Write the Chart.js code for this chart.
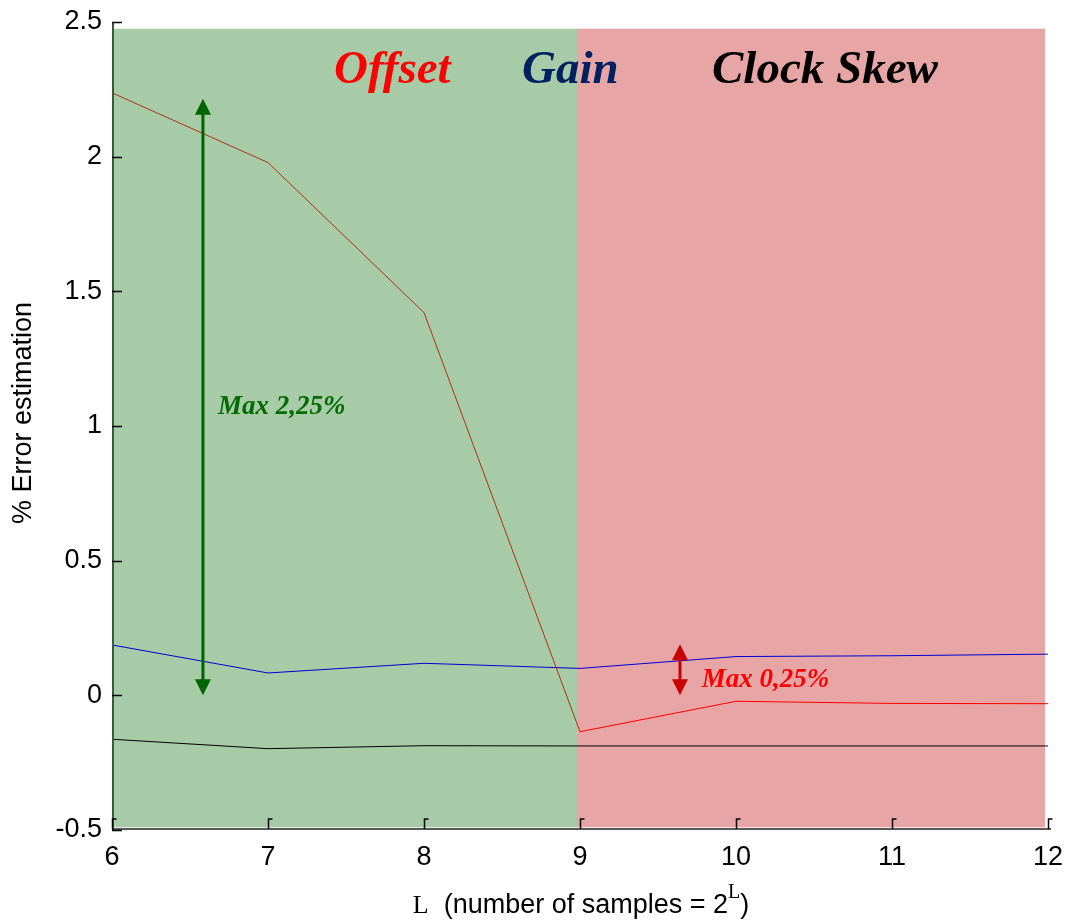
<!DOCTYPE html>
<html><head><meta charset="utf-8">
<script src="https://cdn.jsdelivr.net/npm/chart.js@4.4.1/dist/chart.umd.min.js"></script>
<style>html,body{margin:0;padding:0;background:#fff}#wrap{width:1067px;height:922px;position:relative}</style>
</head><body><div id="wrap"><canvas id="c"></canvas></div>
<script>
// ---- data ----
const L = [6, 7, 8, 9, 10, 11, 12];
const offsetErr = [2.237, 1.978, 1.421, -0.135, -0.022, -0.030, -0.031];
const gainErr = [0.187, 0.083, 0.119, 0.100, 0.144, 0.147, 0.153];
const skewErr = [-0.163, -0.198, -0.187, -0.188, -0.188, -0.188, -0.188];
const xTickValues = [6, 7, 8, 9, 10, 11, 12];
const xTickLabels = ['6', '7', '8', '9', '10', '11', '12'];
const yTickValues = [-0.5, 0, 0.5, 1, 1.5, 2, 2.5];
const yTickLabels = ['-0.5', '0', '0.5', '1', '1.5', '2', '2.5'];
// shaded regions (x from, x to) and vertical extent
const regionXFrom = [6, 8.981];
const regionXTo = [8.981, 11.981];
const regionYFrom = [-0.49, -0.49];
const regionYTo = [2.475, 2.475];
// header words
const headerTexts = ['Offset', 'Gain', 'Clock Skew'];
const headerX = [7.423, 8.628, 9.846];
const headerY = [2.275, 2.275, 2.275];
// double arrows
const arrowX = [6.583, 9.641];
const arrowFrom = [0, 0];
const arrowTo = [2.215, 0.19];
// notes
const noteTexts = ['Max 2,25%', 'Max 0,25%'];
const noteX = [6.679, 9.78];
const noteY = [1.043, 0.03];

// ---- styles ----
const regionColors = ['#a7caa7', '#e7a5a6'];
const headerColors = ['#ff0000', '#002060', '#000000'];
const arrowColors = ['#006400', '#c80000'];
const noteColors = ['#006b00', '#ff0000'];

const pts = (ys) => L.map((x, i) => ({x: x, y: ys[i]}));

const decor = {
  id: 'decor',
  beforeDatasetsDraw(chart) {
    const {ctx, scales: {x, y}} = chart;
    ctx.save();
    for (let i = 0; i < regionColors.length; i++) {
      const x0 = x.getPixelForValue(regionXFrom[i]);
      const x1 = x.getPixelForValue(regionXTo[i]);
      const y0 = y.getPixelForValue(regionYTo[i]);
      const y1 = y.getPixelForValue(regionYFrom[i]);
      ctx.fillStyle = regionColors[i];
      ctx.fillRect(x0, y0, x1 - x0, y1 - y0);
    }
    ctx.restore();
  },
  afterDatasetsDraw(chart) {
    const {ctx, chartArea: ca, scales: {x, y}} = chart;
    ctx.save();
    // axis lines
    ctx.strokeStyle = '#3a5a3a';
    ctx.lineWidth = 2;
    ctx.beginPath(); ctx.moveTo(ca.left + 1, ca.top); ctx.lineTo(ca.left + 1, ca.bottom); ctx.stroke();
    ctx.strokeStyle = '#222';
    ctx.lineWidth = 1.5;
    ctx.beginPath(); ctx.moveTo(ca.left, ca.bottom - 1); ctx.lineTo(ca.right + 3, ca.bottom - 1); ctx.stroke();
    // inward ticks
    ctx.strokeStyle = '#000';
    ctx.lineWidth = 1.5;
    yTickValues.forEach(v => {
      const py = Math.round(y.getPixelForValue(v)) + 0.5;
      ctx.beginPath(); ctx.moveTo(ca.left, py); ctx.lineTo(ca.left + 10, py); ctx.stroke();
    });
    xTickValues.forEach(v => {
      const px = Math.round(x.getPixelForValue(v)) + 0.5;
      ctx.beginPath(); ctx.moveTo(px, ca.bottom - 1); ctx.lineTo(px, ca.bottom - 11); ctx.lineTo(px + 4, ca.bottom - 11); ctx.stroke();
    });
    // arrows
    for (let i = 0; i < arrowX.length; i++) {
      const px = x.getPixelForValue(arrowX[i]);
      const pTop = y.getPixelForValue(arrowTo[i]);
      const pBot = y.getPixelForValue(arrowFrom[i]);
      const hl = 16, hw = 8;
      ctx.fillStyle = arrowColors[i];
      ctx.strokeStyle = arrowColors[i];
      ctx.lineWidth = 3;
      ctx.beginPath(); ctx.moveTo(px, pTop + hl - 1); ctx.lineTo(px, pBot - hl + 1); ctx.stroke();
      ctx.beginPath(); ctx.moveTo(px, pTop); ctx.lineTo(px - hw, pTop + hl); ctx.lineTo(px + hw, pTop + hl); ctx.closePath(); ctx.fill();
      ctx.beginPath(); ctx.moveTo(px, pBot); ctx.lineTo(px - hw, pBot - hl); ctx.lineTo(px + hw, pBot - hl); ctx.closePath(); ctx.fill();
    }
    // header words
    ctx.textBaseline = 'alphabetic';
    ctx.textAlign = 'left';
    ctx.font = 'italic bold 47px "Liberation Serif"';
    headerTexts.forEach((t, i) => {
      ctx.fillStyle = headerColors[i];
      ctx.fillText(t, x.getPixelForValue(headerX[i]), y.getPixelForValue(headerY[i]));
    });
    // notes
    ctx.font = 'italic bold 27px "Liberation Serif"';
    noteTexts.forEach((t, i) => {
      ctx.fillStyle = noteColors[i];
      ctx.fillText(t, x.getPixelForValue(noteX[i]), y.getPixelForValue(noteY[i]));
    });
    ctx.restore();
  },
  afterDraw(chart) {
    const {ctx} = chart;
    ctx.save();
    ctx.fillStyle = '#000';
    // y title
    ctx.translate(24, 413);
    ctx.rotate(-Math.PI / 2);
    ctx.font = '27px "Liberation Sans"';
    ctx.textAlign = 'center';
    ctx.textBaseline = 'middle';
    ctx.fillText('% Error estimation', 0, 0);
    ctx.setTransform(1, 0, 0, 1, 0, 0);
    // x title: L  (number of samples = 2^L)
    const parts = [
      {t: 'L', f: '26px "Liberation Serif"', dy: 0},
      {t: '  (number of samples = 2', f: '27px "Liberation Sans"', dy: 0},
      {t: 'L', f: '20px "Liberation Serif"', dy: -15},
      {t: ')', f: '27px "Liberation Sans"', dy: 0}
    ];
    let total = 0;
    parts.forEach(p => { ctx.font = p.f; p.w = ctx.measureText(p.t).width; total += p.w; });
    let cx = 581 - total / 2;
    ctx.textAlign = 'left';
    ctx.textBaseline = 'alphabetic';
    parts.forEach(p => { ctx.font = p.f; ctx.fillText(p.t, cx, 913 + p.dy); cx += p.w; });
    ctx.restore();
  }
};

new Chart(document.getElementById('c'), {
  type: 'line',
  data: {
    datasets: [
      {label: 'Offset', data: pts(offsetErr), borderWidth: 1, pointRadius: 0, borderColor: '#ff0000',
        segment: {borderColor: c => c.p0DataIndex < 3 ? '#b03018' : '#ff0000'}},
      {label: 'Gain', data: pts(gainErr), borderWidth: 1, pointRadius: 0, borderColor: '#0000d0'},
      {label: 'Clock Skew', data: pts(skewErr), borderWidth: 1, pointRadius: 0, borderColor: '#000000'}
    ]
  },
  options: {
    responsive: true,
    maintainAspectRatio: false,
    animation: false,
    layout: {padding: {top: 22, right: 19, left: 0, bottom: 0}},
    plugins: {legend: {display: false}, tooltip: {enabled: false}},
    scales: {
      x: {
        type: 'linear', min: 6, max: 12,
        afterBuildTicks: s => { s.ticks = xTickValues.map(v => ({value: v})); },
        afterFit: s => { s.height = 92; s.paddingLeft = 0; s.paddingRight = 0; },
        grid: {display: false, drawTicks: false},
        border: {display: false},
        ticks: {
          padding: 11, color: '#000', font: {family: 'Liberation Sans', size: 27},
          maxRotation: 0, autoSkip: false,
          callback: v => xTickLabels[xTickValues.indexOf(v)]
        }
      },
      y: {
        type: 'linear', min: -0.5, max: 2.5,
        afterBuildTicks: s => { s.ticks = yTickValues.map(v => ({value: v})); },
        afterFit: s => { s.width = 112; s.paddingTop = 0; s.paddingBottom = 0; },
        grid: {display: false, drawTicks: false},
        border: {display: false},
        ticks: {
          padding: 10, color: '#000', font: {family: 'Liberation Sans', size: 27},
          autoSkip: false,
          callback: v => yTickLabels[yTickValues.indexOf(v)]
        }
      }
    }
  },
  plugins: [decor]
});
</script>
</body></html>
